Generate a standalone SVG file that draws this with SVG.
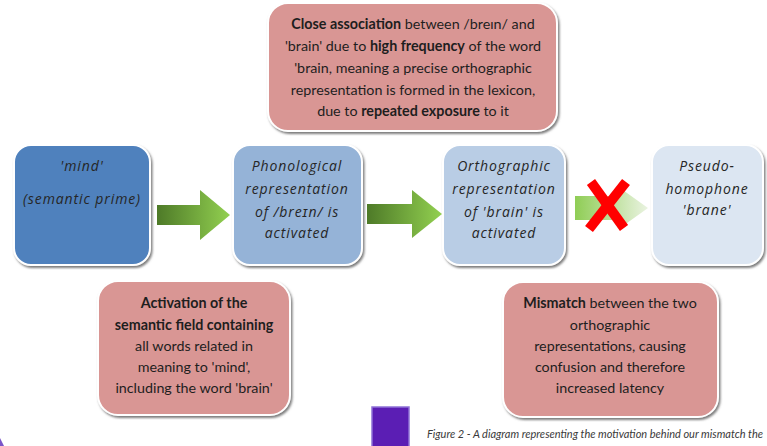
<svg xmlns="http://www.w3.org/2000/svg" width="767" height="446" viewBox="0 0 767 446">
<style>
text{font-family:Lato,"Liberation Sans","DejaVu Sans",sans-serif;font-size:14.3px;fill:#1e1e1e;text-anchor:middle}
.it{font-family:"Open Sans","Liberation Sans",sans-serif;font-size:14px;font-style:italic;letter-spacing:0.9px;fill:#262626}
.b{font-weight:bold}
.box{stroke:#ffffff;stroke-width:2;filter:url(#sh)}
.pink{fill:#d99694}
.cap{font-size:11px;font-style:italic;text-anchor:start;fill:#3a3a3a}
</style>
<defs>
<filter id="sh" x="-10%" y="-10%" width="125%" height="125%">
<feDropShadow dx="1.5" dy="2" stdDeviation="1.2" flood-color="#6e6e6e" flood-opacity="0.9"/>
</filter>
<linearGradient id="g1" x1="0" y1="0" x2="1" y2="0">
<stop offset="0" stop-color="#4e7a28"/>
<stop offset="1" stop-color="#92d050"/>
</linearGradient>
<linearGradient id="g2" x1="0" y1="0" x2="1" y2="0">
<stop offset="0" stop-color="#8fcd55"/>
<stop offset="1" stop-color="#eaf3e1"/>
</linearGradient>
</defs>
<rect x="0" y="0" width="767" height="446" fill="#ffffff"/>
<g id="connectors">
<polygon points="157,205 200,205 200,190 230,215 200,240 200,225 157,225" fill="url(#g1)"/>
<polygon points="367,204 412,204 412,190 442,214 412,238 412,224 367,224" fill="url(#g1)"/>
<polygon points="575,196 620,196 620,188 648,208 620,228 620,220 575,220" fill="url(#g2)"/>
<g id="cross" stroke="#ff0000" stroke-width="10" stroke-linecap="butt">
<line x1="591" y1="182" x2="624" y2="228"/>
<line x1="626" y1="182" x2="589" y2="229"/>
</g>
</g>
<g id="top-note">
<rect class="box pink" x="268" y="3" width="289" height="128" rx="20"/>
<text x="413" y="29"><tspan class="b">Close association</tspan> between /breɪn/ and</text>
<text x="413" y="51">'brain' due to <tspan class="b">high frequency</tspan> of the word</text>
<text x="413" y="73">'brain, meaning a precise orthographic</text>
<text x="413" y="95">representation is formed in the lexicon,</text>
<text x="413" y="116">due to <tspan class="b">repeated exposure</tspan> to it</text>
</g>
<g id="mind">
<rect class="box" x="14" y="145" width="136" height="120" rx="17" fill="#4f81bd"/>
<text class="it" x="82" y="171">'mind'</text>
<text class="it" x="82" y="204">(semantic prime)</text>
</g>
<g id="phonological">
<rect class="box" x="233" y="145" width="129" height="120" rx="17" fill="#95b3d7"/>
<text class="it" x="297" y="171">Phonological</text>
<text class="it" x="297" y="194">representation</text>
<text class="it" x="297" y="217">of /breɪn/ is</text>
<text class="it" x="297" y="238">activated</text>
</g>
<g id="orthographic">
<rect class="box" x="443" y="145" width="122" height="120" rx="17" fill="#b9cde5"/>
<text class="it" x="504" y="171">Orthographic</text>
<text class="it" x="504" y="194">representation</text>
<text class="it" x="504" y="217">of 'brain' is</text>
<text class="it" x="504" y="238">activated</text>
</g>
<g id="pseudohomophone">
<rect class="box" x="652" y="145" width="111" height="120" rx="17" fill="#dce6f2"/>
<text class="it" x="707" y="171">Pseudo-</text>
<text class="it" x="707" y="194">homophone</text>
<text class="it" x="707" y="215">'brane'</text>
</g>
<g id="semantic-note">
<rect class="box pink" x="98" y="281" width="192" height="134" rx="20"/>
<text x="194" y="308" class="b">Activation of the</text>
<text x="194" y="330" class="b">semantic field containing</text>
<text x="194" y="351">all words related in</text>
<text x="194" y="372">meaning to 'mind',</text>
<text x="194" y="393">including the word 'brain'</text>
</g>
<g id="mismatch-note">
<rect class="box pink" x="503" y="282" width="215" height="135" rx="20"/>
<text x="610" y="308"><tspan class="b">Mismatch</tspan> between the two</text>
<text x="610" y="330">orthographic</text>
<text x="610" y="351">representations, causing</text>
<text x="610" y="372">confusion and therefore</text>
<text x="610" y="393">increased latency</text>
</g>
<rect x="372" y="407" width="37" height="42" fill="#5b1eb4" stroke="#8f72d6" stroke-width="1.5"/>
<path d="M0,438 L0,446 L4,446 Z" fill="#7b55c8"/>
<text class="cap" x="427" y="438" textLength="336" lengthAdjust="spacingAndGlyphs">Figure 2 - A diagram representing the motivation behind  our mismatch the</text>
</svg>
